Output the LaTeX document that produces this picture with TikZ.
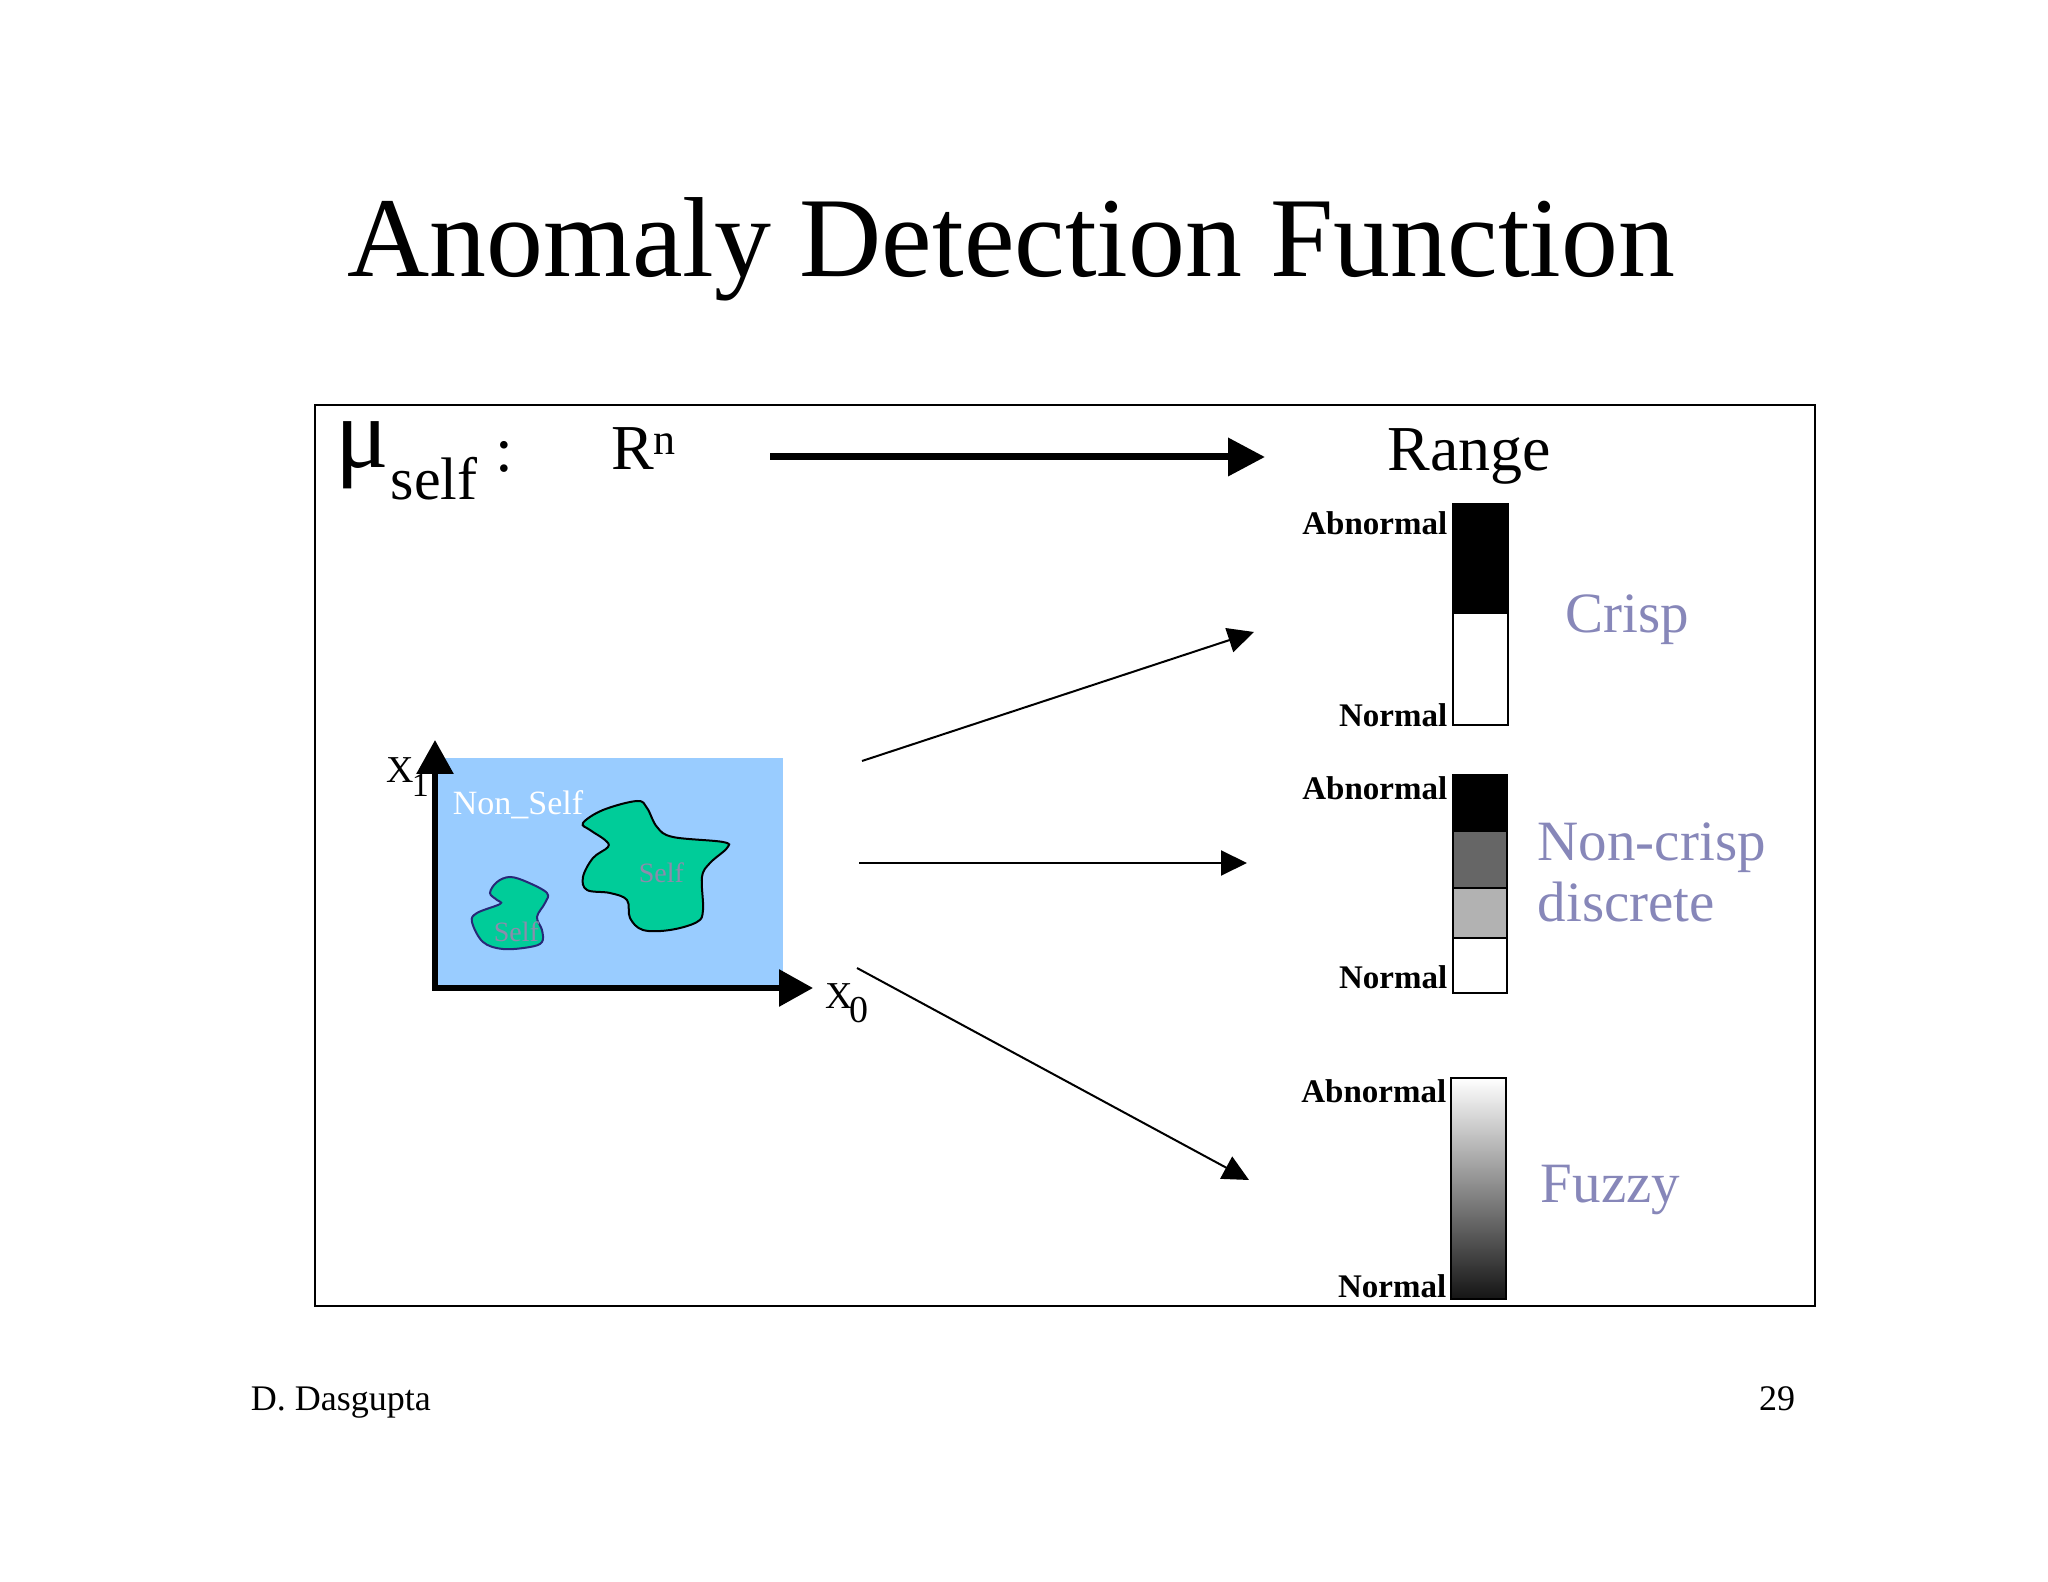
\documentclass[tikz,border=0pt]{standalone}
\usepackage{fontspec}
\setmainfont{Liberation Serif}
\usetikzlibrary{arrows.meta, positioning}
\definecolor{nonselfblue}{HTML}{99CCFF}
\definecolor{selfgreen}{HTML}{00CC99}
\definecolor{kindlilac}{RGB}{135,135,185}
\definecolor{selfgrey}{RGB}{140,140,172}
\definecolor{blobnavy}{RGB}{40,40,120}
\newcommand{\fsz}[1]{\fontsize{#1}{#1}\selectfont}

\begin{document}
\begin{tikzpicture}[
    x=0.25pt, y=-0.25pt,
    txt/.style={inner sep=0pt, anchor=base west},
    level/.style={inner sep=0pt, anchor=base east, font=\fsz{8.25pt}\bfseries},
    kind/.style={inner sep=0pt, anchor=base west, text=kindlilac, font=\fsz{14.25pt}},
    bar/.style={draw=black, line width=0.4pt},
    blob/.style={fill=selfgreen, line width=0.5pt},
    axis/.style={line width=1.5pt, line join=miter,
                 {Triangle[width=9pt,length=8.5pt]}-{Triangle[width=9pt,length=8.5pt]}},
    maparrow/.style={line width=0.5pt, -{Triangle[width=6.25pt,length=6.5pt]}}
]
    \useasboundingbox (0,0) rectangle (2048,1582);

    % Title and frame
    \node[txt, font=\fsz{28.45pt}] (title) at (347,277) {Anomaly Detection Function};
    \draw[line width=0.55pt] (315,405) rectangle (1815,1306);

    % Mapping line
    \node[txt, font=\fsz{25pt}] (mu) at (335,468) {μ};
    \node[txt, font=\fsz{15pt}] (self) at (390,500) {self};
    \node[txt, font=\fsz{16pt}] (colon) at (495,472) {:};
    \node[txt, font=\fsz{16pt}] (rn) at (611,470) {R};
    \node[txt, font=\fsz{11pt}] (rnexp) at (653,455) {n};
    \node[txt, font=\fsz{16pt}] (range) at (1387,471) {Range};
    \coordinate (mapfrom) at (770,457);
    \coordinate (mapto) at (1265,457);
    \draw[line width=1.75pt, -{Triangle[width=9.25pt,length=9.25pt]}] (mapfrom) -- (mapto);

    % Input space
    \fill[nonselfblue] (437,758) rectangle (783,987);
    \coordinate (origin) at (435,988);
    \coordinate (xonetip) at (435,740);
    \coordinate (xzerotip) at (813,988);
    \draw[axis] (xonetip) -- (origin) -- (xzerotip);
    \draw[blob, draw=black] plot[smooth cycle, tension=0.6] coordinates {
        (583,823) (603,810) (637,801) (647,808) (657,827) (673,837) (723,842)
        (727,848) (710,863) (702,877) (703,910) (697,922) (670,930) (643,930)
        (630,918) (627,900) (610,893) (587,890) (583,877) (593,858) (608,847)
        (605,840) (590,830)};
    \draw[blob, draw=blobnavy] plot[smooth cycle, tension=0.6] coordinates {
        (490,893) (497,882) (510,877) (527,882) (547,893) (545,903) (537,917)
        (542,930) (542,942) (530,947) (503,949) (483,942) (472,922) (477,913)
        (500,904) (497,900)};
    \node[txt, text=white, font=\fsz{8.5pt}] (nonself) at (452,815) {Non\_Self};
    \node[txt, text=selfgrey, font=\fsz{7pt}] (selfbig) at (638,883) {Self};
    \node[txt, text=selfgrey, font=\fsz{7pt}] (selfsmall) at (493,942) {Self};
    \node[txt, font=\fsz{9.5pt}] (xone) at (386,783) {X};
    \node[txt, font=\fsz{8.5pt}] (xonesub) at (411,797) {1};
    \node[txt, font=\fsz{9.5pt}] (xzero) at (825,1008) {X};
    \node[txt, font=\fsz{9.5pt}] (xzerosub) at (849,1022) {0};

    % Arrows to the ranges
    \coordinate (crispfrom) at (862,761);
    \coordinate (crispto) at (1254,632);
    \coordinate (discfrom) at (859,863);
    \coordinate (discto) at (1247,863);
    \coordinate (fuzzyfrom) at (857,968);
    \coordinate (fuzzyto) at (1249,1180);
    \draw[maparrow] (crispfrom) -- (crispto);
    \draw[maparrow] (discfrom) -- (discto);
    \draw[maparrow] (fuzzyfrom) -- (fuzzyto);

    % Crisp range
    \fill[black] (1453,504) rectangle (1508,614);
    \draw[bar] (1453,504) rectangle (1508,725);
    \node[level] (crisphi) at (1448,535) {Abnormal};
    \node[level] (crisplo) at (1448,727) {Normal};
    \node[kind] (crisp) at (1565,633) {Crisp};

    % Non-crisp discrete range
    \fill[black] (1453,775) rectangle (1507,832);
    \fill[black!60] (1453,832) rectangle (1507,888);
    \fill[black!30] (1453,888) rectangle (1507,938);
    \draw[bar] (1453,775) rectangle (1507,993);
    \draw[bar] (1453,888) -- (1507,888);
    \draw[bar] (1453,938) -- (1507,938);
    \node[level] (dischi) at (1448,800) {Abnormal};
    \node[level] (disclo) at (1448,989) {Normal};
    \node[kind] (noncrisp) at (1537,860) {Non-crisp};
    \node[kind] (discrete) at (1537,922) {discrete};

    % Fuzzy range
    \shade[top color=white, middle color=black!30, bottom color=black!92] (1451,1078) rectangle (1506,1299);
    \draw[bar] (1451,1078) rectangle (1506,1299);
    \node[level] (fuzzyhi) at (1447,1103) {Abnormal};
    \node[level] (fuzzylo) at (1447,1297) {Normal};
    \node[kind] (fuzzy) at (1540,1202) {Fuzzy};

    % Footer
    \node[txt, font=\fsz{9pt}] (author) at (250,1410) {D. Dasgupta};
    \node[inner sep=0pt, anchor=base east, font=\fsz{9pt}] (page) at (1796,1410) {29};
\end{tikzpicture}
\end{document}
